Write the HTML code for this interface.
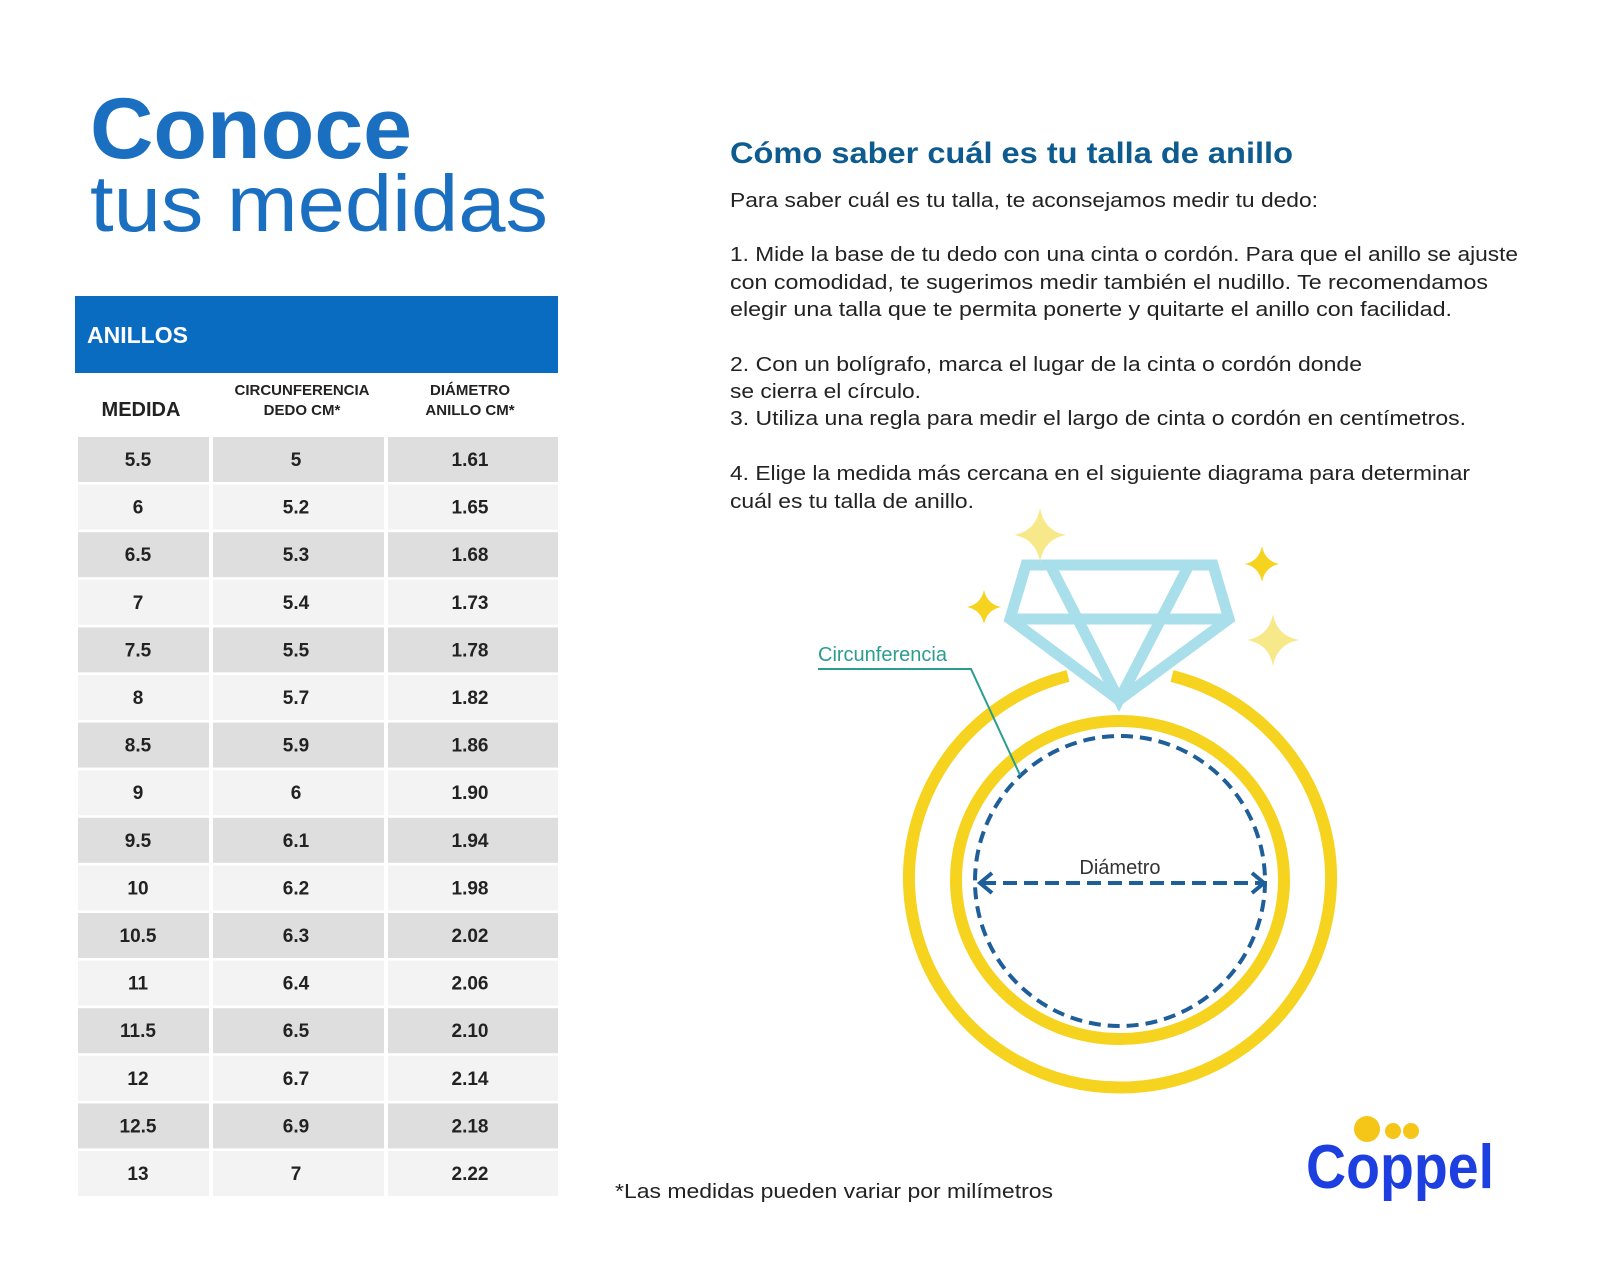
<!DOCTYPE html>
<html><head><meta charset="utf-8"><style>
html,body{margin:0;padding:0;background:#fff;}
svg{display:block;font-family:"Liberation Sans",sans-serif;}
</style></head><body>
<svg width="1600" height="1280" viewBox="0 0 1600 1280" xmlns="http://www.w3.org/2000/svg">
<rect width="1600" height="1280" fill="#fff"/>
<!-- Title -->
<text x="90" y="158" font-size="86" font-weight="bold" fill="#1a6fc0" textLength="322" lengthAdjust="spacingAndGlyphs">Conoce</text>
<text x="90" y="231" font-size="80" fill="#1a6fc0" textLength="458" lengthAdjust="spacingAndGlyphs">tus medidas</text>
<!-- Table header -->
<rect x="75" y="296" width="483" height="77" fill="#0a6cc0"/>
<text x="87" y="343" font-size="23" font-weight="bold" fill="#fff">ANILLOS</text>
<g font-weight="bold" fill="#222" text-anchor="middle">
<text x="141" y="416" font-size="20">MEDIDA</text>
<text x="302" y="395" font-size="15">CIRCUNFERENCIA</text>
<text x="302" y="415" font-size="15">DEDO CM*</text>
<text x="470" y="395" font-size="15">DIÁMETRO</text>
<text x="470" y="415" font-size="15">ANILLO CM*</text>
</g>
<g id="rows" font-size="19" font-weight="bold" fill="#222" text-anchor="middle">
</g>
<!-- Right text -->
<text x="730" y="163" font-size="30" font-weight="bold" fill="#0d5b8f" textLength="563" lengthAdjust="spacingAndGlyphs">Cómo saber cuál es tu talla de anillo</text>
<g font-size="20" fill="#222">
<text x="730" y="207" textLength="588" lengthAdjust="spacingAndGlyphs">Para saber cuál es tu talla, te aconsejamos medir tu dedo:</text>
<text x="730" y="261" textLength="788" lengthAdjust="spacingAndGlyphs">1. Mide la base de tu dedo con una cinta o cordón. Para que el anillo se ajuste</text>
<text x="730" y="289" textLength="758" lengthAdjust="spacingAndGlyphs">con comodidad, te sugerimos medir también el nudillo. Te recomendamos</text>
<text x="730" y="316" textLength="722" lengthAdjust="spacingAndGlyphs">elegir una talla que te permita ponerte y quitarte el anillo con facilidad.</text>
<text x="730" y="371" textLength="632" lengthAdjust="spacingAndGlyphs">2. Con un bolígrafo, marca el lugar de la cinta o cordón donde</text>
<text x="730" y="398" textLength="191" lengthAdjust="spacingAndGlyphs">se cierra el círculo.</text>
<text x="730" y="425" textLength="736" lengthAdjust="spacingAndGlyphs">3. Utiliza una regla para medir el largo de cinta o cordón en centímetros.</text>
<text x="730" y="480" textLength="740" lengthAdjust="spacingAndGlyphs">4. Elige la medida más cercana en el siguiente diagrama para determinar</text>
<text x="730" y="508" textLength="244" lengthAdjust="spacingAndGlyphs">cuál es tu talla de anillo.</text>
<text x="615" y="1198" textLength="438" lengthAdjust="spacingAndGlyphs">*Las medidas pueden variar por milímetros</text>
</g>
<!-- Diagram -->
<path d="M1068,676 A211,209 0 1,0 1172,676" fill="none" stroke="#f5d31f" stroke-width="12"/>
<ellipse cx="1120" cy="880" rx="164" ry="159" fill="none" stroke="#f5d31f" stroke-width="12"/>
<circle cx="1120" cy="881" r="145" fill="none" stroke="#1f5f99" stroke-width="4" stroke-dasharray="12,7"/>
<line x1="982" y1="883" x2="1262" y2="883" stroke="#1f5f99" stroke-width="4" stroke-dasharray="14,7"/>
<polyline points="992,873 980,883 992,893" fill="none" stroke="#1f5f99" stroke-width="4"/>
<polyline points="1252,873 1264,883 1252,893" fill="none" stroke="#1f5f99" stroke-width="4"/>
<text x="1120" y="874" font-size="20" fill="#333" text-anchor="middle">Diámetro</text>
<g fill="none" stroke="#a9dfeb" stroke-width="11" stroke-linejoin="miter">
<polygon points="1026,565 1213,565 1229,619 1119,700 1010,619"/>
<line x1="1010" y1="619" x2="1229" y2="619"/>
<polyline points="1050,565 1119,700 1189,565"/>
</g>
<text x="818" y="661" font-size="20" fill="#2a9d8f">Circunferencia</text>
<polyline points="818,669 971,669 1020,775" fill="none" stroke="#2a9d8f" stroke-width="2"/>
<!-- stars -->
<g>
<path d="M1040,508 Q1044,531 1066,535 Q1044,539 1040,562 Q1036,539 1014,535 Q1036,531 1040,508Z" fill="#f7e98a"/>
<path d="M1262,546 Q1265,561 1279,564 Q1265,567 1262,582 Q1259,567 1245,564 Q1259,561 1262,546Z" fill="#f5d31f"/>
<path d="M984,590 Q987,604 1001,607 Q987,610 984,624 Q981,610 967,607 Q981,604 984,590Z" fill="#f5d31f"/>
<path d="M1273,614 Q1277,636 1299,640 Q1277,644 1273,666 Q1269,644 1247,640 Q1269,636 1273,614Z" fill="#f7e98a"/>
</g>
<!-- logo -->
<circle cx="1367" cy="1129" r="13" fill="#f5c518"/>
<circle cx="1393" cy="1131" r="8" fill="#f5c518"/>
<circle cx="1411" cy="1131" r="8" fill="#f5c518"/>
<text x="1306" y="1188" font-size="62" font-weight="bold" fill="#1d3fe0" textLength="188" lengthAdjust="spacingAndGlyphs">Coppel</text>
</svg>
<script>
var d=[["5.5","5","1.61"],["6","5.2","1.65"],["6.5","5.3","1.68"],["7","5.4","1.73"],["7.5","5.5","1.78"],["8","5.7","1.82"],["8.5","5.9","1.86"],["9","6","1.90"],["9.5","6.1","1.94"],["10","6.2","1.98"],["10.5","6.3","2.02"],["11","6.4","2.06"],["11.5","6.5","2.10"],["12","6.7","2.14"],["12.5","6.9","2.18"],["13","7","2.22"]];
var g=document.getElementById("rows"),h="";
var cols=[[78,131,138],[213,171,296],[388,170,470]];
for(var i=0;i<16;i++){var y=437+i*47.6,f=i%2?"#f3f3f3":"#dedede";
for(var c=0;c<3;c++){h+='<rect x="'+cols[c][0]+'" y="'+y+'" width="'+cols[c][1]+'" height="45" fill="'+f+'"/>';
h+='<text x="'+cols[c][2]+'" y="'+(y+29)+'">'+d[i][c]+'</text>';}}
g.innerHTML=h;
</script>
</body></html>
